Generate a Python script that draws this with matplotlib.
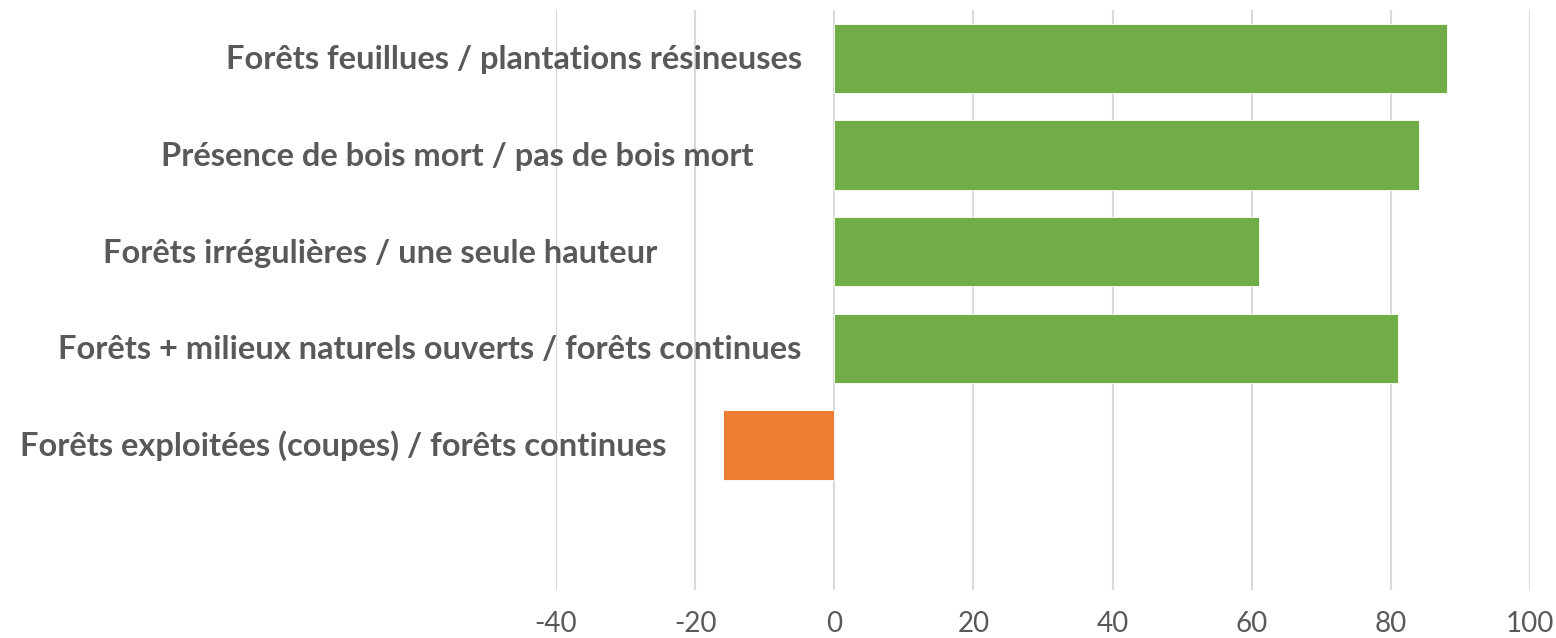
import numpy as np
import matplotlib
matplotlib.use("Agg")
import matplotlib.pyplot as plt

# categories, top to bottom
categories = [
    "Forêts feuillues / plantations résineuses",
    "Présence de bois mort / pas de bois mort",
    "Forêts irrégulières / une seule hauteur",
    "Forêts + milieux naturels ouverts / forêts continues",
    "Forêts exploitées (coupes) / forêts continues",
]
values = [88, 84, 61, 81, -16]
# where the right end of each label sits (data units on the x axis)
label_right = [-4.6, -11.6, -25.4, -4.7, -24.1]
xticks = [-40, -20, 0, 20, 40, 60, 80, 100]

green = "#70AD47"
orange = "#ED7D31"
grey = "#595959"

plt.rcParams["font.family"] = ["Lato", "DejaVu Sans"]

fig = plt.figure(figsize=(15.56, 6.38), dpi=100)
ax = fig.add_axes([556 / 1556, 48 / 638, 974 / 1556, 580 / 638])

n_slots = len(categories) + 1  # an empty slot is left at the bottom
ypos = np.arange(len(categories))
colors = [green if v >= 0 else orange for v in values]
ax.barh(ypos, values, height=0.72, color=colors, edgecolor="white",
        linewidth=0.6, zorder=3)

for y, lab, xr in zip(ypos, categories, label_right):
    ax.text(xr, y + 0.115, lab, ha="right", va="baseline", fontsize=23.5,
            fontweight="bold", color=grey, clip_on=False, zorder=1)

ax.set_xlim(-40, 100)
ax.set_ylim(n_slots - 0.5, -0.5)
ax.set_xticks(xticks)
ax.set_xticklabels([str(t) for t in xticks])
ax.set_yticks([])
ax.tick_params(axis="x", length=0, pad=15, labelsize=20, labelcolor=grey)
ax.grid(axis="x", color="#D9D9D9", linewidth=1.5, zorder=0)
ax.set_axisbelow(True)
for s in ax.spines.values():
    s.set_visible(False)

fig.savefig("out.png", dpi=100)
